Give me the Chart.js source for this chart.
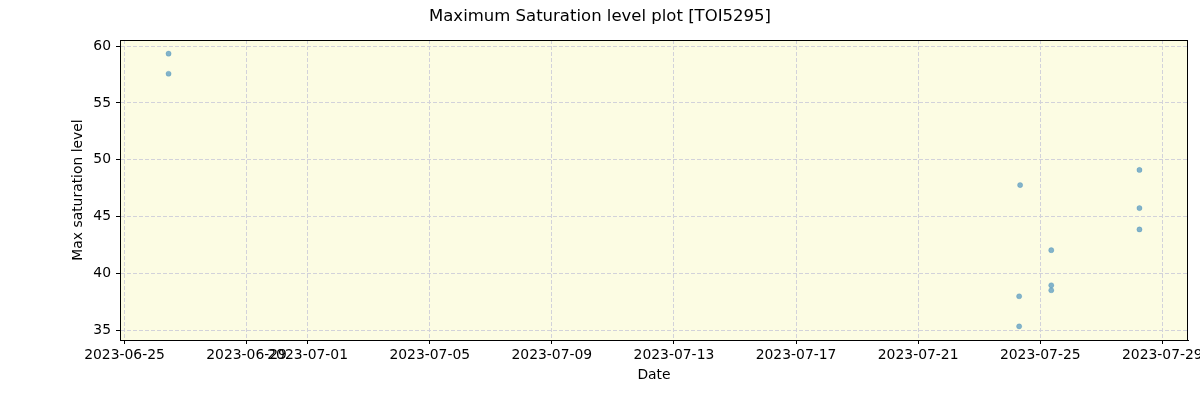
<!DOCTYPE html>
<html>
<head>
<meta charset="utf-8">
<title>Maximum Saturation level plot [TOI5295]</title>
<script src="https://cdn.jsdelivr.net/npm/chart.js@4/dist/chart.umd.min.js"></script>
<style>
  html, body { margin: 0; padding: 0; background: #ffffff; }
  canvas { display: block; }
</style>
</head>
<body>
<canvas id="satChart" width="1200" height="400"></canvas>
<script>
const obsTimes = [
  '2023-06-26T10:38Z', '2023-06-26T10:38Z',
  '2023-07-24T08:10Z', '2023-07-24T07:25Z', '2023-07-24T07:25Z',
  '2023-07-25T08:40Z', '2023-07-25T08:40Z', '2023-07-25T08:40Z',
  '2023-07-28T06:00Z', '2023-07-28T06:00Z', '2023-07-28T06:00Z'
];
const maxSaturation = [
  59.34, 57.57,
  47.77, 37.98, 35.33,
  42.04, 38.95, 38.51,
  49.10, 45.74, 43.86
];

const xTickLabels = [
  '2023-06-25', '2023-06-29', '2023-07-01', '2023-07-05', '2023-07-09',
  '2023-07-13', '2023-07-17', '2023-07-21', '2023-07-25', '2023-07-29'
];
const yTickValues = [35, 40, 45, 50, 55, 60];

const FONT = "'DejaVu Sans', 'Liberation Sans', sans-serif";

// matplotlib-like 5% margins around the data
function paddedRange(values) {
  const lo = Math.min(...values);
  const hi = Math.max(...values);
  const pad = (hi - lo) * 0.05;
  return [lo - pad, hi + pad];
}

const points = obsTimes.map((t, i) => ({ x: Date.parse(t), y: maxSaturation[i] }));
const [xMin, xMax] = paddedRange(points.map(p => p.x));
const [yMin, yMax] = paddedRange(maxSaturation);

const gridColor = '#d2d2da';

/**
 * Axes background + full box frame like matplotlib spines
 */
const plotFrame = {
  id: 'plotFrame',
  beforeDraw(chart) {
    const { ctx, chartArea: a } = chart;
    ctx.save();
    ctx.fillStyle = '#fcfce3';
    ctx.fillRect(a.left, a.top, a.right - a.left, a.bottom - a.top);
    ctx.restore();
  },
  afterDraw(chart) {
    const { ctx, chartArea: a } = chart;
    ctx.save();
    ctx.strokeStyle = '#000000';
    ctx.lineWidth = 1;
    ctx.strokeRect(a.left + 0.5, a.top + 0.5, a.right - a.left - 1, a.bottom - a.top);
    ctx.restore();
  }
};

new Chart(document.getElementById('satChart'), {
  type: 'scatter',
  data: {
    datasets: [{
      label: 'Max saturation level',
      data: points,
      backgroundColor: 'rgba(31, 119, 180, 0.55)',
      borderColor: 'rgba(31, 119, 180, 0.35)',
      borderWidth: 0.6,
      pointRadius: 2.6
    }]
  },
  options: {
    responsive: false,
    animation: false,
    layout: { padding: 0 },
    plugins: {
      legend: { display: false },
      tooltip: { enabled: false },
      title: {
        display: true,
        text: 'Maximum Saturation level plot [TOI5295]',
        color: '#000000',
        font: { family: FONT, size: 16.5, weight: 'normal', lineHeight: 1.2 },
        padding: { top: 7, bottom: 13.2 }
      }
    },
    scales: {
      x: {
        type: 'linear',
        min: xMin,
        max: xMax,
        afterBuildTicks(scale) {
          scale.ticks = xTickLabels.map(d => ({ value: Date.parse(d) }));
        },
        afterFit(scale) {
          scale.height = 60;
          scale.paddingLeft = 0;
          // leave the right margin of the figure free
          scale.paddingRight = 12;
        },
        ticks: {
          color: '#000000',
          font: { family: FONT, size: 13.9 },
          padding: 3,
          maxRotation: 0,
          autoSkip: false,
          callback: (value, index) => xTickLabels[index]
        },
        grid: {
          color: gridColor,
          lineWidth: 1,
          drawTicks: true,
          tickLength: 4,
          tickColor: '#000000',
          tickWidth: 1,
          tickBorderDash: []
        },
        border: { display: true, color: '#000000', width: 1, dash: [4, 2] },
        title: {
          display: true,
          text: 'Date',
          color: '#000000',
          font: { family: FONT, size: 13.9, lineHeight: 1.2 },
          padding: { top: 0, bottom: 16 }
        }
      },
      y: {
        type: 'linear',
        min: yMin,
        max: yMax,
        afterBuildTicks(scale) {
          scale.ticks = yTickValues.map(v => ({ value: v }));
        },
        afterFit(scale) {
          scale.width = 120;
          scale.paddingTop = 0;
          scale.paddingBottom = 0;
        },
        ticks: {
          color: '#000000',
          font: { family: FONT, size: 13.9 },
          padding: 5,
          autoSkip: false,
          callback: value => String(value)
        },
        grid: {
          color: gridColor,
          lineWidth: 1,
          drawTicks: true,
          tickLength: 4,
          tickColor: '#000000',
          tickWidth: 1,
          tickBorderDash: []
        },
        border: { display: true, color: '#000000', width: 1, dash: [4, 2] },
        title: {
          display: true,
          text: 'Max saturation level',
          color: '#000000',
          font: { family: FONT, size: 13.9, lineHeight: 1.2 },
          padding: { top: 70.5, bottom: 0 }
        }
      }
    }
  },
  plugins: [plotFrame]
});
</script>
</body>
</html>
